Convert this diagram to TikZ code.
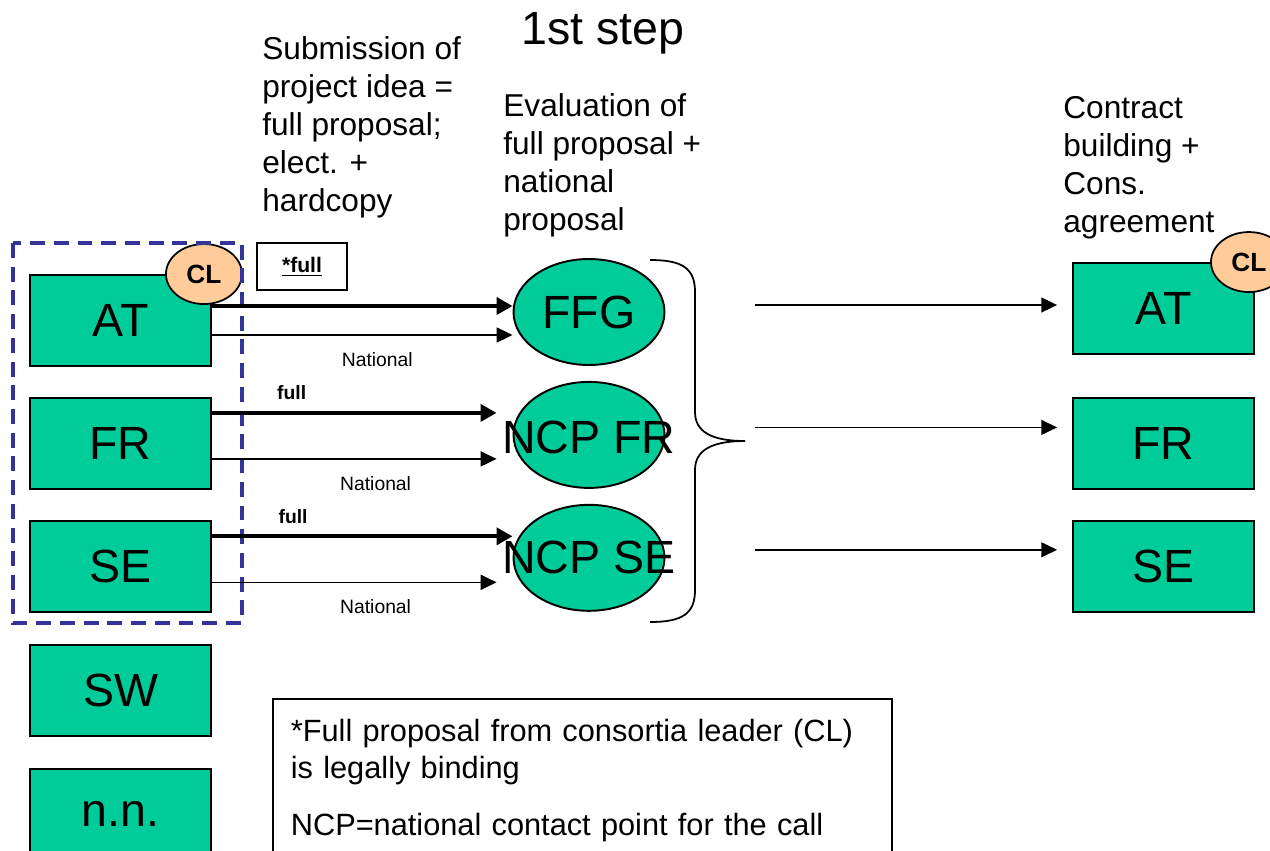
\documentclass[tikz,border=0pt]{standalone}
\usepackage{fontspec}
\setmainfont{Liberation Sans}
\usetikzlibrary{positioning,shapes.geometric,arrows.meta}

\definecolor{boxgreen}{HTML}{00CC99}
\definecolor{clorange}{HTML}{FFCC99}
\definecolor{groupblue}{HTML}{333399}

\tikzset{
  country/.style={draw, fill=boxgreen, line width=1.1pt, minimum width=3.62cm, minimum height=1.82cm, inner sep=0pt, font=\fontsize{26.5}{30}\selectfont},
  ncp/.style={draw, ellipse, fill=boxgreen, line width=1.1pt, minimum width=3.02cm, minimum height=2.12cm, inner sep=0pt},
  bigtext/.style={font=\fontsize{26.5}{30}\selectfont},
  leader/.style={draw, ellipse, fill=clorange, line width=1pt, minimum width=1.52cm, minimum height=1.2cm, inner sep=0pt, font=\fontsize{15}{18}\selectfont\bfseries},
  fullarr/.style={-{Triangle[length=9pt,width=9.5pt]}, line width=2.3pt},
  natarr/.style={-{Triangle[length=9pt,width=8.5pt]}, line width=0.9pt},
  small/.style={font=\fontsize{11}{13}\selectfont},
  head/.style={anchor=north west, inner sep=0pt, align=left, font=\fontsize{18}{21.6}\selectfont}
}

\begin{document}
\begin{tikzpicture}[x=0.02cm, y=-0.02cm]
  \useasboundingbox (0,0) rectangle (1270,851);

  % Headings
  \node[bigtext] (title) at (603,33) {1st step};
  \node[head] (submit) at (262,36) {Submission of\\project idea =\\full proposal;\\elect. +\\hardcopy};
  \node[head] (evalhead) at (503,93) {Evaluation of\\full proposal +\\national\\proposal};
  \node[head] (contract) at (1063,96) {Contract\\building +\\Cons.\\agreement};

  % Partners
  \node[country] (at) at (120.5,320.5) {AT};
  \node[country, below=0.6cm of at] (fr) {FR};
  \node[country, below=0.6cm of fr] (se) {SE};
  \node[country, below=0.62cm of se] (sw) {SW};
  \node[country, below=0.62cm of sw] (nn) {n.n.};
  \node[leader] (clleft) at ([xshift=-0.16cm]at.north east) {CL};
  \draw[groupblue, line width=2.3pt, dash pattern=on 8.5pt off 5pt] (13,243) rectangle (242,623);
  \node[draw, line width=1pt, minimum width=1.8cm, minimum height=0.94cm, font=\fontsize{12}{14}\selectfont\bfseries] (fullbox) at (302,266.5) {\underline{*full}};

  % Evaluation
  \node[ncp] (ffg) at (589,312) {};
  \node[bigtext] at (ffg.center) {FFG};
  \node[ncp, below=0.3cm of ffg] (ncpfr) {};
  \node[bigtext] at ([yshift=-0.06cm]ncpfr.center) {NCP FR};
  \node[ncp, below=0.3cm of ncpfr] (ncpse) {};
  \node[bigtext] at (ncpse.center) {NCP SE};

  % Submission arrows
  \draw[fullarr] ([yshift=0.29cm]at.east) -- ([yshift=0.29cm]at.east -| ffg.west);
  \draw[natarr] ([yshift=-0.29cm]at.east) -- node[small, below=0.22cm, pos=0.55] {National} ([yshift=-0.29cm]at.east -| ffg.west);
  \draw[fullarr] ([yshift=0.61cm]fr.east) -- node[small, above=0.1cm, pos=0.28, font=\fontsize{11}{13}\selectfont\bfseries] {full} ([xshift=-0.32cm,yshift=0.61cm]fr.east -| ncpfr.west);
  \draw[natarr] ([yshift=-0.31cm]fr.east) -- node[small, below=0.22cm, pos=0.575] {National} ([xshift=-0.32cm,yshift=-0.31cm]fr.east -| ncpfr.west);
  \draw[fullarr] ([yshift=0.6cm]se.east) -- node[small, above=0.1cm, pos=0.27, font=\fontsize{11}{13}\selectfont\bfseries] {full} ([yshift=0.6cm]se.east -| ncpse.west);
  \draw[natarr] ([yshift=-0.32cm]se.east) -- node[small, below=0.22cm, pos=0.575] {National} ([xshift=-0.32cm,yshift=-0.32cm]se.east -| ncpse.west);

  % Brace
  \draw[line width=1pt] (650,260) .. controls (682,260) and (695,268) .. (695,292) -- (695,412)
    .. controls (695,432) and (712,441) .. (745,441) .. controls (712,441) and (695,450) .. (695,470)
    -- (695,590) .. controls (695,614) and (682,622) .. (650,622);
  \coordinate (bt) at (755,441);

  % Contracts
  \node[country] (rat) at (1163.5,308.5) {AT};
  \node[country, below=0.84cm of rat] (rfr) {FR};
  \node[country, below=0.6cm of rfr] (rse) {SE};
  \node[leader] (clright) at ([xshift=-0.12cm]rat.north east) {CL};
  \draw[natarr] ([yshift=0.07cm]rat.west -| bt) -- ([xshift=-0.3cm,yshift=0.07cm]rat.west);
  \draw[natarr] ([yshift=0.32cm]rfr.west -| bt) -- ([xshift=-0.3cm,yshift=0.32cm]rfr.west);
  \draw[natarr] ([yshift=0.33cm]rse.west -| bt) -- ([xshift=-0.3cm,yshift=0.33cm]rse.west);

  % Note
  \node[draw, line width=1pt, anchor=north west, inner xsep=0.36cm, inner ysep=0.4cm, text width=11.66cm, align=left, font=\fontsize{17.5}{21}\selectfont] (note) at (272,698) {*Full proposal from consortia leader (CL)\\is legally binding\\[0.42cm]NCP=national contact point for the call};
\end{tikzpicture}
\end{document}
